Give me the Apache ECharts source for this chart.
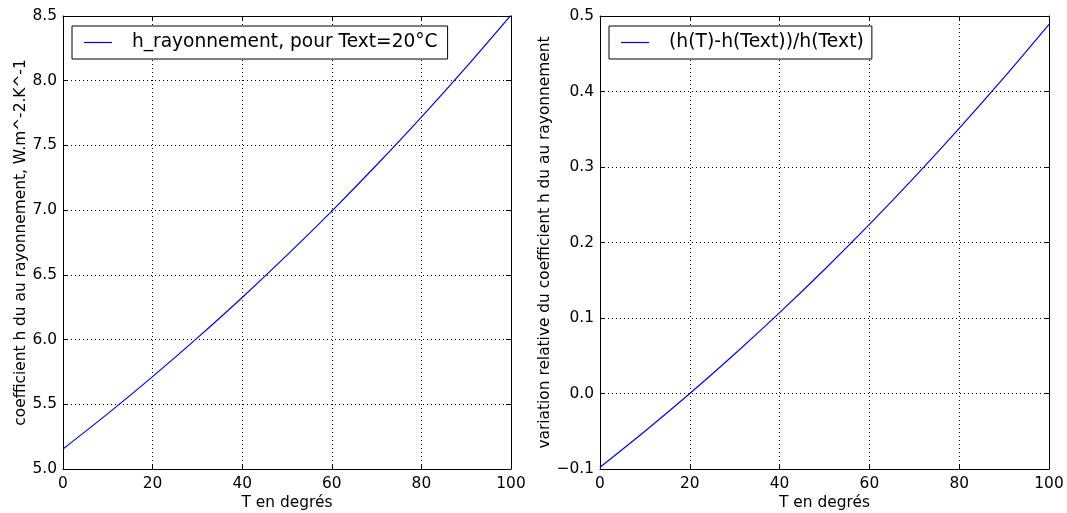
<!DOCTYPE html>
<html>
<head>
<meta charset="utf-8">
<script src="https://cdn.jsdelivr.net/npm/echarts@6/dist/echarts.min.js"></script>
<style>
html,body{margin:0;padding:0;background:#fff;}
#chart{width:1067px;height:513px;}
</style>
</head>
<body>
<div id="chart"></div>
<script>
// Temperatures (°C)
var temps = [0, 10, 20, 30, 40, 50, 60, 70, 80, 90, 100];
// h radiation coefficient (W.m^-2.K^-1)
var hValues = [5.155, 5.428, 5.714, 6.013, 6.325, 6.652, 6.993, 7.349, 7.719, 8.105, 8.507];
// relative variation
var relValues = [-0.0977, -0.0500, 0.0, 0.0523, 0.1071, 0.1643, 0.2239, 0.2862, 0.3511, 0.4186, 0.4889];

var leftName = 'h_rayonnement, pour Text=20°C';
var rightName = '(h(T)-h(Text))/h(Text)';
var xTitle = 'T en degrés';
var leftYTitle = 'coefficient h du au rayonnement, W.m^-2.K^-1';
var rightYTitle = 'variation relative du coefficient h du au rayonnement';

var FONT = 'DejaVu Sans';
function fmt(v){ return v.toFixed(1).replace('-', '\u2212'); }
function pairs(xs, ys){ return xs.map(function(x,i){ return [x, ys[i]]; }); }

var axisLineStyle = {show:true, onZero:false, lineStyle:{color:'#000', width:1}};
var tickStyle = {show:true, inside:true, length:5, lineStyle:{color:'#000', width:1}};
var gridLine = {show:true, lineStyle:{color:'#000', width:1, type:[1,3]}};
var labelStyle = {color:'#000', fontFamily:FONT, fontSize:15.4};

function xAx(gi, bottom){
  return {
    type:'value', gridIndex:gi, min:0, max:100, interval:20,
    position: bottom ? 'bottom' : 'top',
    name: bottom ? xTitle : '', nameLocation:'middle', nameGap:25,
    nameTextStyle:{color:'#000', fontFamily:FONT, fontSize:15.4},
    axisLine:axisLineStyle, axisTick:tickStyle,
    axisLabel: bottom ? Object.assign({margin:7, formatter:function(v){return String(v);}}, labelStyle) : {show:false},
    splitLine: bottom ? gridLine : {show:false}
  };
}
function yAx(gi, left, min, max, interval, title, gap){
  return {
    type:'value', gridIndex:gi, min:min, max:max, interval:interval,
    position: left ? 'left' : 'right',
    name: left ? title : '', nameLocation:'middle', nameGap:gap,
    nameTextStyle:{color:'#000', fontFamily:FONT, fontSize:15.4},
    axisLine:axisLineStyle, axisTick:tickStyle,
    axisLabel: left ? Object.assign({margin:6, formatter:fmt}, labelStyle) : {show:false},
    splitLine: left ? gridLine : {show:false}
  };
}

var chart = echarts.init(document.getElementById('chart'), null, {renderer:'canvas'});
chart.setOption({
  backgroundColor:'#fff',
  animation:false,
  grid:[
    {left:63, right:556, top:16, bottom:44, containLabel:false, outerBoundsMode:'none'},
    {left:600, right:18, top:16, bottom:44, containLabel:false, outerBoundsMode:'none'}
  ],
  xAxis:[ xAx(0,true), xAx(0,false), xAx(1,true), xAx(1,false) ],
  yAxis:[
    yAx(0,true,5.0,8.5,0.5,leftYTitle,35),
    yAx(0,false,5.0,8.5,0.5,'',0),
    yAx(1,true,-0.1,0.5,0.1,rightYTitle,47),
    yAx(1,false,-0.1,0.5,0.1,'',0)
  ],
  legend:[
    {data:[leftName], left:72, top:26, orient:'vertical', icon:'rect', itemWidth:28, itemHeight:1.2,
     padding:[7,10,7,12], borderColor:'#000', borderWidth:1, borderRadius:0, backgroundColor:'#fff',
     textStyle:{color:'#000', fontFamily:FONT, fontSize:18.6, lineHeight:18, padding:[0,0,0,15]}},
    {data:[rightName], left:609, top:26, orient:'vertical', icon:'rect', itemWidth:28, itemHeight:1.2,
     padding:[7,8,7,12], borderColor:'#000', borderWidth:1, borderRadius:0, backgroundColor:'#fff',
     textStyle:{color:'#000', fontFamily:FONT, fontSize:18.8, lineHeight:18, padding:[0,0,0,15]}}
  ],
  series:[
    {name:leftName, type:'line', xAxisIndex:0, yAxisIndex:0, data:pairs(temps,hValues),
     smooth:0.3, symbol:'none', lineStyle:{color:'#0000ff', width:1.2}, itemStyle:{color:'#0000ff'}},
    {name:rightName, type:'line', xAxisIndex:2, yAxisIndex:2, data:pairs(temps,relValues),
     smooth:0.3, symbol:'none', lineStyle:{color:'#0000ff', width:1.2}, itemStyle:{color:'#0000ff'}}
  ]
});
</script>
</body>
</html>
